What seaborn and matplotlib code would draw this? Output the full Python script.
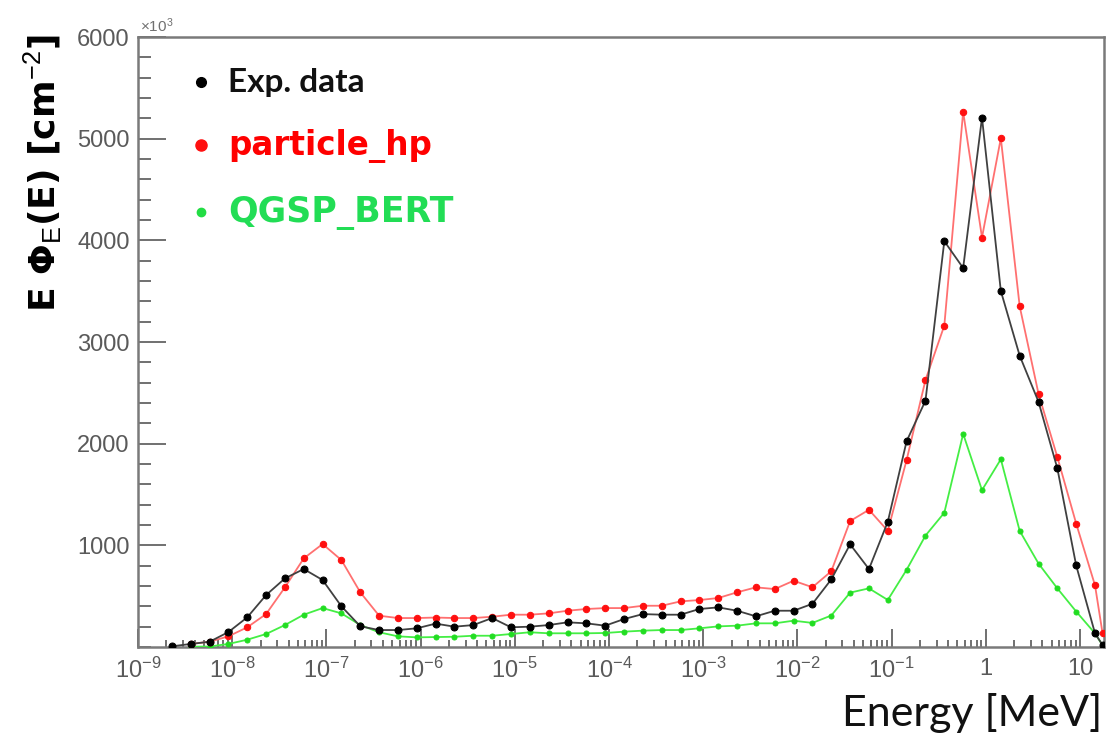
import numpy as np
import pandas as pd
import matplotlib
matplotlib.use("Agg")
import matplotlib.pyplot as plt
import seaborn as sns
from matplotlib.lines import Line2D
from matplotlib.ticker import FixedLocator, FixedFormatter, MultipleLocator, NullFormatter

# ---------------- data ----------------
# log10 of bin-centre energies [MeV]
log_energy = [-8.64, -8.44, -8.24, -8.04, -7.84, -7.64, -7.44, -7.24, -7.04, -6.84,
              -6.64, -6.44, -6.24, -6.04, -5.84, -5.64, -5.44, -5.24, -5.04, -4.84,
              -4.64, -4.44, -4.24, -4.04, -3.84, -3.64, -3.44, -3.24, -3.04, -2.84,
              -2.64, -2.44, -2.24, -2.04, -1.84, -1.64, -1.44, -1.24, -1.04, -0.84,
              -0.64, -0.44, -0.24, -0.04, 0.16, 0.36, 0.56, 0.76, 0.96, 1.16, 1.24]

exp_data = [7, 30, 52, 147, 292, 511, 675, 767, 659, 400,
            204, 167, 167, 184, 230, 200, 216, 285, 194, 200,
            216, 243, 233, 210, 275, 324, 318, 318, 374, 390,
            357, 302, 357, 357, 425, 665, 1010, 767, 1232, 2025,
            2423, 3992, 3728, 5207, 3502, 2866, 2412, 1757, 802, 134, 20]

# particle_hp and QGSP_BERT start at the second bin
particle_hp = [30, 52, 105, 194, 324, 587, 872, 1013, 855,
               538, 308, 285, 285, 290, 285, 285, 298, 318, 318,
               331, 357, 374, 383, 383, 406, 406, 449, 462, 482,
               538, 587, 570, 652, 588, 745, 1239, 1350, 1143, 1840,
               2626, 3162, 5265, 4028, 5004, 3352, 2491, 1868, 1214, 606, 134]

qgsp_bert = [3, 5, 30, 72, 128, 216, 318, 383, 331,
             216, 145, 105, 95, 98, 101, 111, 111, 128, 145,
             135, 135, 135, 138, 151, 161, 167, 167, 184, 203,
             210, 233, 233, 259, 237, 310, 535, 577, 463, 760,
             1096, 1321, 2097, 1543, 1847, 1143, 821, 577, 349, 134, 16]

series_names = ["Exp. data", "particle_hp", "QGSP_BERT"]
x_tick_exps = [-9, -8, -7, -6, -5, -4, -3, -2, -1, 0, 1]
x_tick_labels = [r"$10^{-9}$", r"$10^{-8}$", r"$10^{-7}$", r"$10^{-6}$", r"$10^{-5}$",
                 r"$10^{-4}$", r"$10^{-3}$", r"$10^{-2}$", r"$10^{-1}$", "1", "10"]
y_ticks = [1000, 2000, 3000, 4000, 5000, 6000]

# ---------------- styling ----------------
sns.set_style("ticks")
plt.rcParams["font.family"] = ["Liberation Sans", "DejaVu Sans"]
plt.rcParams["mathtext.fontset"] = "custom"
plt.rcParams["mathtext.rm"] = "Liberation Sans"
plt.rcParams["mathtext.it"] = "Liberation Sans:italic"
plt.rcParams["mathtext.bf"] = "Liberation Sans:bold"

energy = [10.0 ** v for v in log_energy]
df_exp = pd.DataFrame({"E": energy, "flux": exp_data})
df_hp = pd.DataFrame({"E": energy[1:], "flux": particle_hp})
df_qg = pd.DataFrame({"E": energy[1:], "flux": qgsp_bert})

fig = plt.figure(figsize=(11.10, 7.48), dpi=100)
ax = fig.add_axes([0.1243, 0.135, 0.8703, 0.8155])

sns.lineplot(data=df_qg, x="E", y="flux", ax=ax, estimator=None, sort=False,
             color="#44ee44", lw=1.3, marker="o", markersize=3.6,
             markerfacecolor="#22dd22", markeredgecolor="#22dd22", zorder=3)
sns.lineplot(data=df_hp, x="E", y="flux", ax=ax, estimator=None, sort=False,
             color="#ff7070", lw=1.3, marker="o", markersize=4.6,
             markerfacecolor="#ff1010", markeredgecolor="#ff1010", zorder=4)
sns.lineplot(data=df_exp, x="E", y="flux", ax=ax, estimator=None, sort=False,
             color="#404040", lw=1.3, marker="o", markersize=5.0,
             markerfacecolor="#000000", markeredgecolor="#000000", zorder=5)

ax.set_xscale("log")
ax.set_xlim(1e-9, 18)
ax.set_ylim(0, 6000)

# ticks
ax.xaxis.set_major_locator(FixedLocator([10.0 ** e for e in x_tick_exps]))
ax.xaxis.set_major_formatter(FixedFormatter(x_tick_labels))
minors = [m * 10.0 ** e for e in range(-9, 2) for m in range(2, 10)]
ax.xaxis.set_minor_locator(FixedLocator(minors))
ax.xaxis.set_minor_formatter(NullFormatter())
ax.yaxis.set_major_locator(FixedLocator(y_ticks))
ax.yaxis.set_minor_locator(MultipleLocator(200))

tick_grey = "#5a5a5a"
ax.tick_params(axis="both", which="both", direction="in", color="#707070", width=1.4,
               labelcolor=tick_grey, labelsize=17, top=False, right=False)
ax.tick_params(axis="x", which="major", length=13, pad=8)
ax.tick_params(axis="x", which="minor", length=5)
ax.tick_params(axis="y", which="major", length=20, pad=6)
ax.tick_params(axis="y", which="minor", length=9)

for side in ["left", "bottom", "top", "right"]:
    ax.spines[side].set_visible(True)
    ax.spines[side].set_color("#7a7a7a")
    ax.spines[side].set_linewidth(1.8)

# axis labels
ax.set_ylabel("E Φ$_{\\rm E}$(E) [cm$^{-2}$]", fontsize=26, fontweight="bold",
              color="black", loc="top", family=["DejaVu Sans"])
ax.yaxis.set_label_coords(-0.077, 1.005)
ax.set_xlabel("Energy [MeV]", fontsize=31, color="#111111", loc="right",
              family=["Lato", "DejaVu Sans"])
ax.xaxis.set_label_coords(0.998, -0.075)

ax.text(0.002, 1.004, r"$\times10^{3}$", transform=ax.transAxes, fontsize=11,
        color="#707070", ha="left", va="bottom")

# legend (markers only, coloured labels)
handles = [
    Line2D([], [], ls="none", marker="o", markersize=7, color="#000000"),
    Line2D([], [], ls="none", marker="o", markersize=8, color="#ff1010"),
    Line2D([], [], ls="none", marker="o", markersize=6, color="#22dd44"),
]
leg = ax.legend(handles, series_names, loc="upper left", bbox_to_anchor=(0.039, 0.968),
                frameon=False, fontsize=20, labelspacing=1.15, handletextpad=0.5,
                handlelength=1.0, borderaxespad=0.0)
texts = leg.get_texts()
texts[0].set_color("#111111")
texts[0].set_fontweight("bold")
texts[0].set_fontfamily(["Lato", "DejaVu Sans"])
texts[0].set_fontsize(24)
texts[1].set_color("#ff0000")
texts[1].set_fontweight("bold")
texts[1].set_fontfamily(["DejaVu Sans"])
texts[1].set_fontsize(23.5)
texts[2].set_color("#22dd55")
texts[2].set_fontweight("bold")
texts[2].set_fontfamily(["DejaVu Sans"])
texts[2].set_fontsize(25)

fig.savefig("out.png", dpi=100, facecolor="white")
